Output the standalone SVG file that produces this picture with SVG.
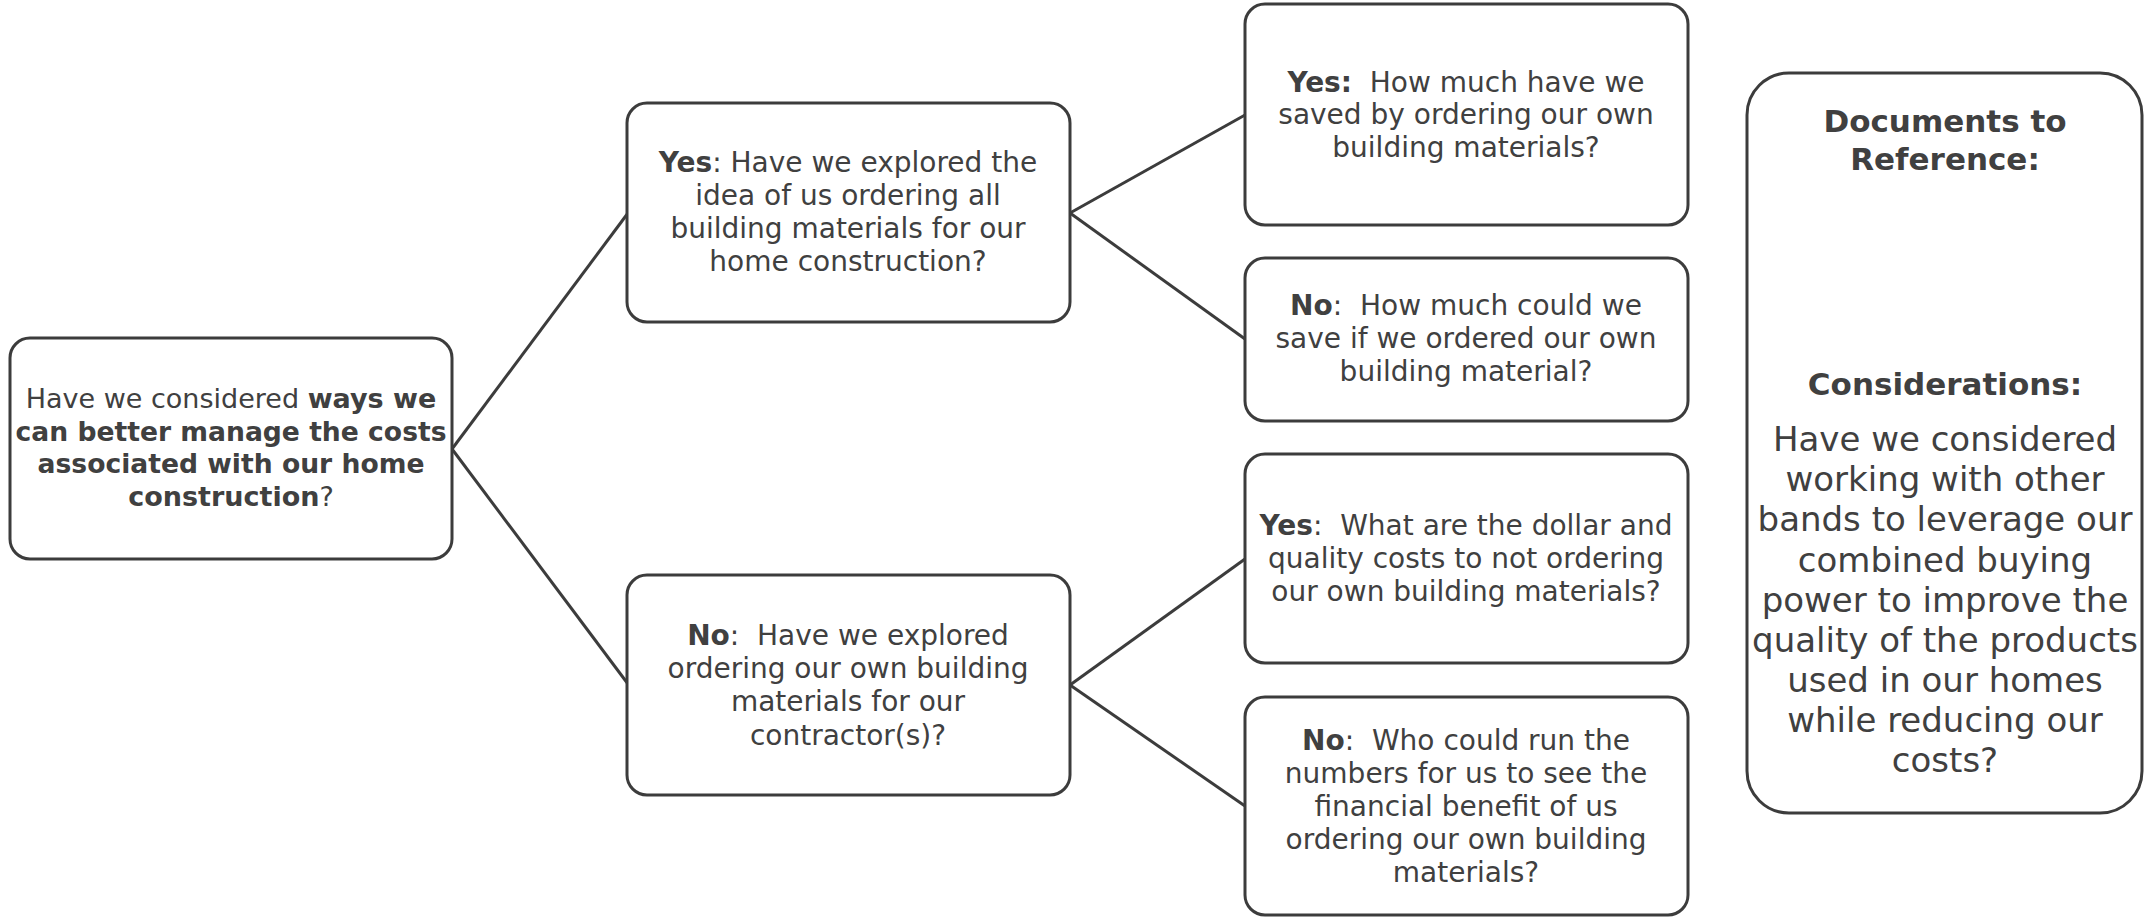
<svg xmlns="http://www.w3.org/2000/svg" width="2144" height="917" viewBox="0 0 2144 917">
<style>
.box{fill:#fff;stroke:#3c3c3c;stroke-width:3}
.t{font-family:"DejaVu Sans","Open Sans",sans-serif;font-size:28px;fill:#404040;text-anchor:middle;white-space:pre}
.r{font-size:27px}
.rb{font-size:26.6px}
.p{font-size:34px}
.h{font-size:31px}
.b{font-weight:bold}
.conn line{stroke:#3c3c3c;stroke-width:3}
</style>
<rect width="2144" height="917" fill="#fff"/>
<g id="connectors" class="conn">
<line x1="452" y1="449" x2="628" y2="213"/>
<line x1="452" y1="449" x2="628" y2="684"/>
<line x1="1070" y1="213" x2="1245" y2="115"/>
<line x1="1070" y1="213" x2="1245" y2="339"/>
<line x1="1070" y1="685" x2="1245" y2="559"/>
<line x1="1070" y1="685" x2="1245" y2="806"/>
</g>
<g id="root">
<rect class="box" x="10" y="338" width="442" height="221" rx="20"/>
<text class="t r" x="231" y="408">Have we considered <tspan class="b">ways we</tspan></text>
<text class="t rb b" x="231" y="441">can better manage the costs</text>
<text class="t rb b" x="231" y="473">associated with our home</text>
<text class="t r" x="231" y="506"><tspan class="b">construction</tspan>?</text>
</g>
<g id="yes">
<rect class="box" x="627" y="103" width="443" height="219" rx="20"/>
<text class="t" x="848" y="172"><tspan class="b">Yes</tspan>: Have we explored the</text>
<text class="t" x="848" y="205">idea of us ordering all</text>
<text class="t" x="848" y="238">building materials for our</text>
<text class="t" x="848" y="271">home construction?</text>
</g>
<g id="no">
<rect class="box" x="627" y="575" width="443" height="220" rx="20"/>
<text class="t" x="848" y="645"><tspan class="b">No</tspan>:  Have we explored</text>
<text class="t" x="848" y="678">ordering our own building</text>
<text class="t" x="848" y="711">materials for our</text>
<text class="t" x="848" y="745">contractor(s)?</text>
</g>
<g id="yes-yes">
<rect class="box" x="1245" y="4" width="443" height="221" rx="20"/>
<text class="t" x="1466" y="92"><tspan class="b">Yes:</tspan>  How much have we</text>
<text class="t" x="1466" y="124">saved by ordering our own</text>
<text class="t" x="1466" y="157">building materials?</text>
</g>
<g id="yes-no">
<rect class="box" x="1245" y="258" width="443" height="163" rx="20"/>
<text class="t" x="1466" y="315"><tspan class="b">No</tspan>:  How much could we</text>
<text class="t" x="1466" y="348">save if we ordered our own</text>
<text class="t" x="1466" y="381">building material?</text>
</g>
<g id="no-yes">
<rect class="box" x="1245" y="454" width="443" height="209" rx="20"/>
<text class="t" x="1466" y="535"><tspan class="b">Yes</tspan>:  What are the dollar and</text>
<text class="t" x="1466" y="568">quality costs to not ordering</text>
<text class="t" x="1466" y="601">our own building materials?</text>
</g>
<g id="no-no">
<rect class="box" x="1245" y="697" width="443" height="218" rx="20"/>
<text class="t" x="1466" y="750"><tspan class="b">No</tspan>:  Who could run the</text>
<text class="t" x="1466" y="783">numbers for us to see the</text>
<text class="t" x="1466" y="816">financial benefit of us</text>
<text class="t" x="1466" y="849">ordering our own building</text>
<text class="t" x="1466" y="882">materials?</text>
</g>
<g id="panel">
<rect class="box" x="1747" y="73" width="395" height="740" rx="42"/>
<text class="t h b" x="1945" y="132">Documents to</text>
<text class="t h b" x="1945" y="170">Reference:</text>
<text class="t h b" x="1945" y="395">Considerations:</text>
<text class="t p" x="1945" y="451">Have we considered</text>
<text class="t p" x="1945" y="491">working with other</text>
<text class="t p" x="1945" y="531">bands to leverage our</text>
<text class="t p" x="1945" y="572">combined buying</text>
<text class="t p" x="1945" y="612">power to improve the</text>
<text class="t p" x="1945" y="652">quality of the products</text>
<text class="t p" x="1945" y="692">used in our homes</text>
<text class="t p" x="1945" y="732">while reducing our</text>
<text class="t p" x="1945" y="772">costs?</text>
</g>
</svg>
